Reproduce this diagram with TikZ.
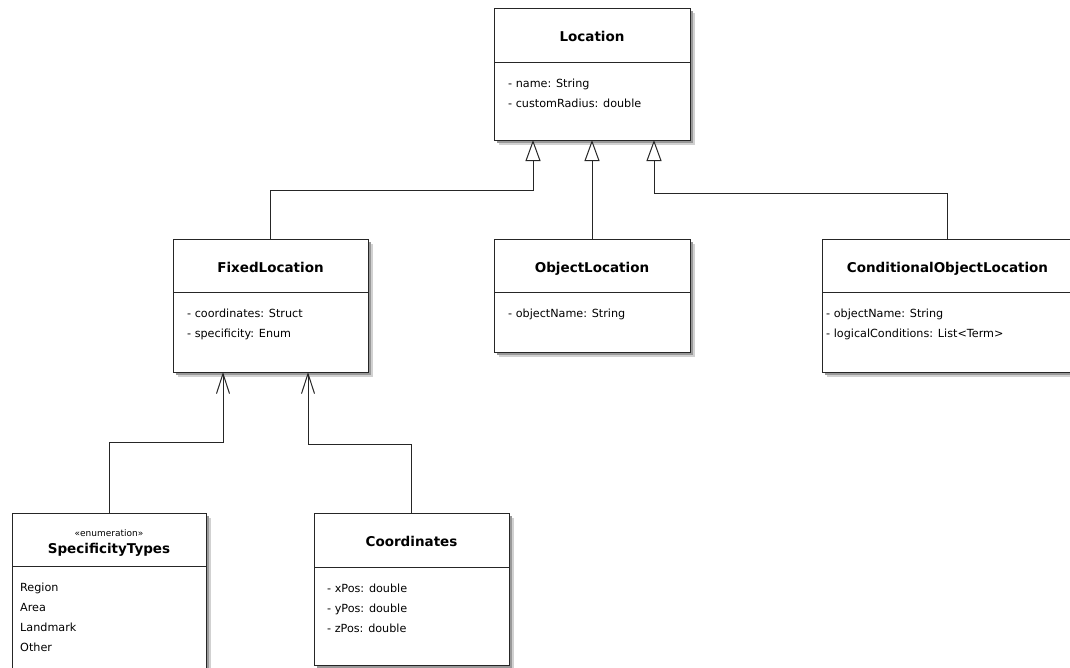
\documentclass[tikz,border=0pt]{standalone}
\usepackage{fontspec}
\setmainfont{DejaVu Sans}
\usetikzlibrary{arrows.meta}

% class box: #1 name, #2 left, #3 top, #4 right, #5 bottom, #6 divider line
\newcommand\classbox[6]{%
  \fill[black!18] (#2+5,#3+5) rectangle (#4+5,#5+5);
  \fill[black!40] (#2+3,#3+3) rectangle (#4+3,#5+3);
  \node[box, anchor=north west, minimum width={(#4-#2)*1pt},
        minimum height={(#5-#3)*1pt}] (#1) at (#2,#3) {};
  \draw[boxline] (#1.west |- 0,#6) -- (#1.east |- 0,#6);
}

\begin{document}
\begin{tikzpicture}[x=1pt,y=-1pt,
  boxline/.style={draw=black!85,line width=1pt},
  box/.style={boxline,fill=white,inner sep=0pt,outer sep=0pt},
  title/.style={anchor=base,inner sep=0pt,font=\bfseries\fontsize{13.5}{16}\selectfont},
  attr/.style={anchor=base west,inner sep=0pt,font=\fontsize{11.2}{13}\selectfont},
  stereo/.style={anchor=base,inner sep=0pt,font=\fontsize{9}{11}\selectfont},
  conn/.style={draw=black!85,line width=1pt},
  gen/.style={conn,-{Triangle[open,length=21pt,width=15pt,fill=white]}},
  assoc/.style={conn,-{Straight Barb[length=20pt,width=13pt]}},
]
\useasboundingbox (0,0) rectangle (1070,667);

% class boxes
\classbox{loc}{494}{8}{690}{140}{62}
\classbox{fixed}{173}{239}{368}{372}{292}
\classbox{obj}{494}{239}{690}{352}{292}
\classbox{cond}{822}{239}{1073}{372}{292}
\classbox{spec}{12}{513}{206}{669}{566}
\classbox{coords}{314}{513}{509}{665}{567}

% Location
\node[title] (loc-t) at (592,41) {Location};
\node[attr] (loc-a1) at (508,87) {- name: String};
\node[attr] (loc-a2) at (508,107) {- customRadius: double};

% FixedLocation
\node[title] (fixed-t) at (270.5,272) {FixedLocation};
\node[attr] (fixed-a1) at (187,317) {- coordinates: Struct};
\node[attr] (fixed-a2) at (187,337) {- specificity: Enum};

% ObjectLocation
\node[title] (obj-t) at (592,272) {ObjectLocation};
\node[attr] (obj-a1) at (508,317) {- objectName: String};

% ConditionalObjectLocation
\node[title] (cond-t) at (947.5,272) {ConditionalObjectLocation};
\node[attr] (cond-a1) at (826,317) {- objectName: String};
\node[attr] (cond-a2) at (826,337) {- logicalConditions: List<Term>};

% SpecificityTypes
\node[stereo] (spec-s) at (109,536) {«enumeration»};
\node[title] (spec-t) at (109,553) {SpecificityTypes};
\node[attr] (spec-l1) at (20,591) {Region};
\node[attr] (spec-l2) at (20,611) {Area};
\node[attr] (spec-l3) at (20,631) {Landmark};
\node[attr] (spec-l4) at (20,651) {Other};

% Coordinates
\node[title] (coords-t) at (411.5,546) {Coordinates};
\node[attr] (coords-a1) at (327,592) {- xPos: double};
\node[attr] (coords-a2) at (327,612) {- yPos: double};
\node[attr] (coords-a3) at (327,632) {- zPos: double};

% generalizations
\coordinate (j1) at (533,190);
\coordinate (j3) at (654,193);
\draw[gen] (fixed.north) |- (j1) -- (loc.south -| j1);
\draw[gen] (obj.north) -- (loc.south -| obj.north);
\draw[gen] (cond.north) |- (j3) -- (loc.south -| j3);

% associations
\coordinate (j4) at (223,442);
\coordinate (j5) at (308,444);
\draw[assoc] (spec.north) |- (j4) -- (fixed.south -| j4);
\draw[assoc] (coords.north) |- (j5) -- (fixed.south -| j5);
\end{tikzpicture}
\end{document}
